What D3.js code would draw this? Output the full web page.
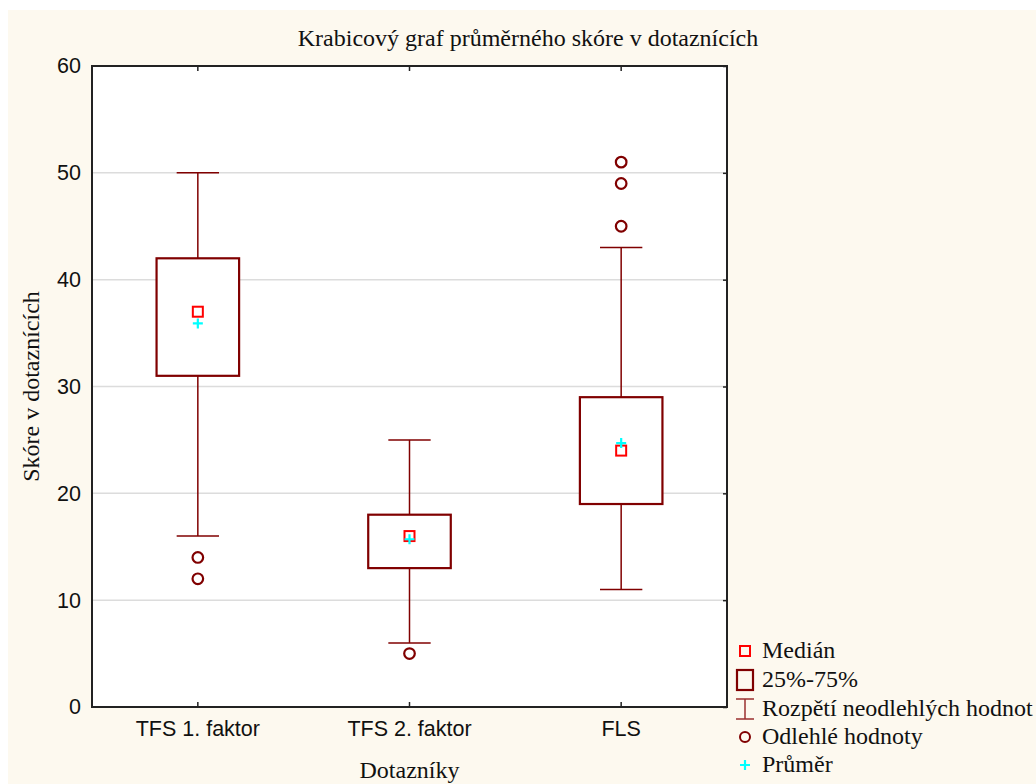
<!DOCTYPE html>
<html>
<head>
<meta charset="utf-8">
<script src="https://cdn.jsdelivr.net/npm/d3@7"></script>
<style>
  body { margin: 0; background: #fff; }
  svg { display: block; }
</style>
</head>
<body>
<script>
// data
var categories = ["TFS 1. faktor", "TFS 2. faktor", "FLS"];
var whiskerLow = [16, 6, 11];
var q1 = [31, 13, 19];
var medians = [37, 16, 24];
var q3 = [42, 18, 29];
var whiskerHigh = [50, 25, 43];
var means = [35.9, 15.7, 24.7];
var outliers = [[14, 12], [5], [51, 49, 45]];
var yTicks = [0, 10, 20, 30, 40, 50, 60];
var legendLabels = ["Medián", "25%-75%", "Rozpětí neodlehlých hodnot", "Odlehlé hodnoty", "Průměr"];

var w = 1036,
    h = 784;
var plotL = 92, plotR = 727, plotT = 66, plotB = 707;

var boxColor = "#800000",
    medianColor = "#ff0000",
    meanColor = "#00ffff";

var serif = "'Liberation Serif', 'Times New Roman', serif";
var sans = "'Liberation Sans', Arial, sans-serif";

var x = d3.scaleBand().domain(categories).range([plotL, plotR]);
var y = d3.scaleLinear().domain([0, 60]).range([plotB, plotT]);

var svg = d3.select("body").append("svg")
    .attr("width", w)
    .attr("height", h);

// cream background with white strip top/left
svg.append("rect").attr("x", 8).attr("y", 10).attr("width", w - 8).attr("height", h - 10)
    .attr("fill", "#fdf9ef");

svg.append("rect").attr("x", plotL).attr("y", plotT)
    .attr("width", plotR - plotL).attr("height", plotB - plotT)
    .attr("fill", "#fff");

// grid
svg.append("g").selectAll("line")
    .data(yTicks.filter(function(d) { return d > 0 && d < 60; }))
    .enter().append("line")
    .attr("x1", plotL).attr("x2", plotR)
    .attr("y1", function(d) { return y(d); })
    .attr("y2", function(d) { return y(d); })
    .attr("stroke", "#dcdcdc")
    .attr("stroke-width", 1.5);

// axes
var yAxis = svg.append("g")
    .attr("transform", "translate(" + plotL + ",0)")
    .call(d3.axisLeft(y).tickValues(yTicks).tickSize(0).tickPadding(11));
yAxis.select(".domain").remove();
yAxis.selectAll("text").attr("font-family", sans).attr("font-size", 21.5).attr("fill", "#111");

var yAxisR = svg.append("g")
    .attr("transform", "translate(" + plotR + ",0)")
    .call(d3.axisRight(y).tickValues(yTicks).tickSize(-4).tickFormat(""));
yAxisR.select(".domain").remove();
yAxisR.selectAll("line").attr("stroke", "#222").attr("stroke-width", 1.5);

var xAxis = svg.append("g")
    .attr("transform", "translate(0," + plotB + ")")
    .call(d3.axisBottom(x).tickSize(-5).tickPadding(14));
xAxis.select(".domain").remove();
xAxis.selectAll("line").attr("stroke", "#222").attr("stroke-width", 1.5);
xAxis.selectAll("text").attr("font-family", sans).attr("font-size", 21.5).attr("fill", "#111");

var xAxisT = svg.append("g")
    .attr("transform", "translate(0," + plotT + ")")
    .call(d3.axisTop(x).tickSize(-5).tickFormat(""));
xAxisT.select(".domain").remove();
xAxisT.selectAll("line").attr("stroke", "#222").attr("stroke-width", 1.5);

// frame
svg.append("rect").attr("x", plotL).attr("y", plotT)
    .attr("width", plotR - plotL).attr("height", plotB - plotT)
    .attr("fill", "none").attr("stroke", "#222").attr("stroke-width", 2);

// boxes
var bw = x.bandwidth() * 0.39,
    cw = x.bandwidth() * 0.2;

var g = svg.append("g").selectAll("g")
    .data(categories)
    .enter().append("g")
    .attr("transform", function(d) { return "translate(" + (x(d) + x.bandwidth() / 2) + ",0)"; });

g.append("line")
    .attr("x1", 0).attr("x2", 0)
    .attr("y1", function(d, i) { return y(whiskerHigh[i]); })
    .attr("y2", function(d, i) { return y(whiskerLow[i]); })
    .attr("stroke", boxColor).attr("stroke-width", 1.5);

g.selectAll(".cap")
    .data(function(d, i) { return [whiskerLow[i], whiskerHigh[i]]; })
    .enter().append("line")
    .attr("x1", -cw / 2).attr("x2", cw / 2)
    .attr("y1", function(v) { return y(v); })
    .attr("y2", function(v) { return y(v); })
    .attr("stroke", boxColor).attr("stroke-width", 1.5);

g.append("rect")
    .attr("x", -bw / 2).attr("width", bw)
    .attr("y", function(d, i) { return y(q3[i]); })
    .attr("height", function(d, i) { return y(q1[i]) - y(q3[i]); })
    .attr("fill", "#fff").attr("stroke", boxColor).attr("stroke-width", 2.2);

g.selectAll("circle")
    .data(function(d, i) { return outliers[i]; })
    .enter().append("circle")
    .attr("cx", 0)
    .attr("cy", function(v) { return y(v); })
    .attr("r", 5.3)
    .attr("fill", "none").attr("stroke", boxColor).attr("stroke-width", 2.2);

g.append("rect")
    .attr("x", -5).attr("width", 10)
    .attr("y", function(d, i) { return y(medians[i]) - 5; })
    .attr("height", 10)
    .attr("fill", "none").attr("stroke", medianColor).attr("stroke-width", 2);

g.append("path")
    .attr("d", function(d, i) {
      var cy = y(means[i]);
      return "M-5," + cy + "H5M0," + (cy - 5) + "V" + (cy + 5);
    })
    .attr("stroke", meanColor).attr("stroke-width", 2.2);

// titles
svg.append("text").attr("x", 528).attr("y", 46)
    .attr("text-anchor", "middle")
    .attr("font-family", serif).attr("font-size", 24).attr("fill", "#111")
    .text("Krabicový graf průměrného skóre v dotaznících");

svg.append("text").attr("transform", "translate(39," + ((plotT + plotB) / 2) + ") rotate(-90)")
    .attr("text-anchor", "middle")
    .attr("font-family", serif).attr("font-size", 24).attr("fill", "#111")
    .text("Skóre v dotaznících");

svg.append("text").attr("x", (plotL + plotR) / 2).attr("y", 778)
    .attr("text-anchor", "middle")
    .attr("font-family", serif).attr("font-size", 24).attr("fill", "#111")
    .text("Dotazníky");

// legend
var lx = 745, ly = [651, 680, 709, 737, 765];
var leg = svg.append("g");

leg.append("rect").attr("x", lx - 5).attr("y", ly[0] - 5).attr("width", 10).attr("height", 10)
    .attr("fill", "none").attr("stroke", medianColor).attr("stroke-width", 2);
leg.append("rect").attr("x", lx - 8).attr("y", ly[1] - 10).attr("width", 16).attr("height", 20)
    .attr("fill", "none").attr("stroke", boxColor).attr("stroke-width", 2.2);
leg.append("path")
    .attr("d", "M" + (lx - 9) + "," + (ly[2] - 10) + "H" + (lx + 9) +
               "M" + lx + "," + (ly[2] - 10) + "V" + (ly[2] + 10) +
               "M" + (lx - 9) + "," + (ly[2] + 10) + "H" + (lx + 9))
    .attr("fill", "none").attr("stroke", "#9a3030").attr("stroke-width", 1.5);
leg.append("circle").attr("cx", lx).attr("cy", ly[3]).attr("r", 5)
    .attr("fill", "none").attr("stroke", boxColor).attr("stroke-width", 2);
leg.append("path")
    .attr("d", "M" + (lx - 5) + "," + ly[4] + "H" + (lx + 5) + "M" + lx + "," + (ly[4] - 5) + "V" + (ly[4] + 5))
    .attr("stroke", meanColor).attr("stroke-width", 2.2);

leg.selectAll("text")
    .data(legendLabels)
    .enter().append("text")
    .attr("x", 762)
    .attr("y", function(d, i) { return ly[i] + 7; })
    .attr("font-family", serif).attr("font-size", 24).attr("fill", "#111")
    .text(function(d) { return d; });
</script>
</body>
</html>
